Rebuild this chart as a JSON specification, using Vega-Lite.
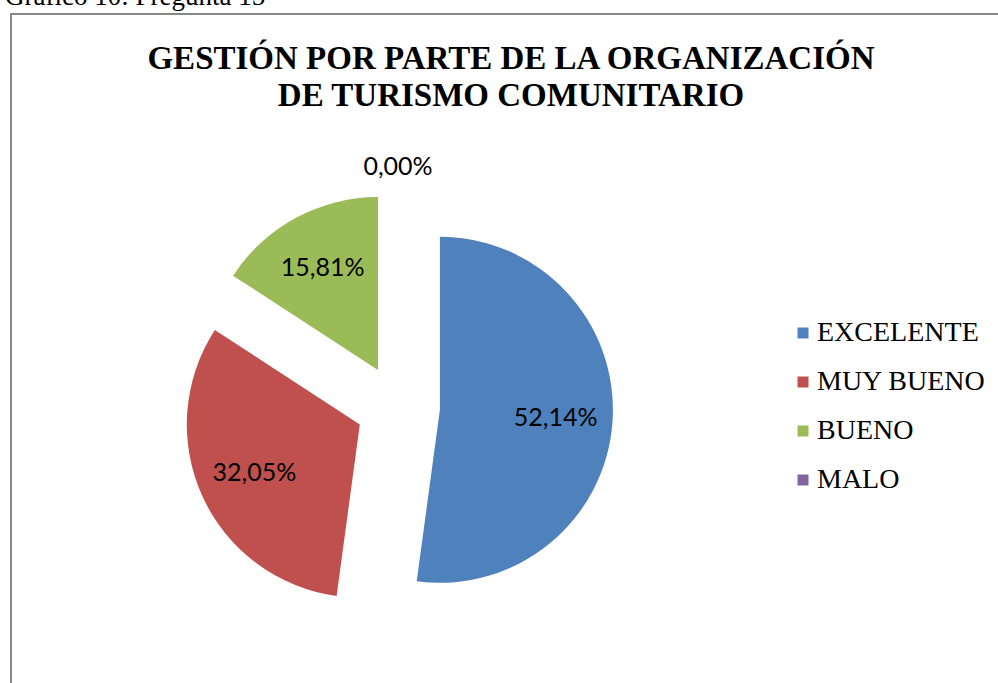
{
  "$schema": "https://vega.github.io/schema/vega-lite/v6.json",
  "background": "white",
  "padding": {"left": 5, "top": -17, "right": 0, "bottom": 0},
  "title": {
    "text": "Gráfico 10: Pregunta 15",
    "anchor": "start",
    "frame": "bounds",
    "font": "Liberation Serif",
    "fontSize": 27,
    "fontWeight": "normal",
    "color": "black",
    "offset": 2,
    "dx": -5
  },
  "config": {
    "locale": {
      "number": {"decimal": ",", "thousands": ".", "grouping": [3], "currency": ["", " €"]}
    }
  },
  "vconcat": [
    {
      "width": 988,
      "height": 671,
      "title": {
        "text": ["GESTIÓN POR PARTE DE LA ORGANIZACIÓN", "DE TURISMO COMUNITARIO"],
        "anchor": "middle",
        "frame": "group",
        "font": "Liberation Serif",
        "fontSize": 33,
        "fontWeight": "bold",
        "lineHeight": 37,
        "color": "black",
        "offset": -99,
        "dx": 6
      },
      "view": {"stroke": "#888888", "strokeWidth": 2, "strokeDash": [988, 1659, 671], "fill": "white"},
      "data": {
        "values": [
          {"categoria": "EXCELENTE", "proporcion": 0.5214, "orden": 1},
          {"categoria": "MUY BUENO", "proporcion": 0.3205, "orden": 2},
          {"categoria": "BUENO", "proporcion": 0.1581, "orden": 3},
          {"categoria": "MALO", "proporcion": 0, "orden": 4}
        ]
      },
      "encoding": {
        "theta": {"field": "proporcion", "type": "quantitative", "stack": true},
        "order": {"field": "orden", "type": "quantitative"},
        "color": {
          "field": "categoria",
          "type": "nominal",
          "scale": {
            "domain": ["EXCELENTE", "MUY BUENO", "BUENO", "MALO"],
            "range": ["#4F81BD", "#C0504D", "#9BBB59", "#8064A2"]
          },
          "legend": {
            "orient": "none",
            "legendX": 778,
            "legendY": 305,
            "direction": "vertical",
            "title": null,
            "padding": 0,
            "symbolType": "square",
            "symbolSize": 121,
            "symbolStrokeWidth": 0,
            "labelFont": "Liberation Serif",
            "labelFontSize": 28,
            "labelColor": "black",
            "labelOffset": 0,
            "rowPadding": 21,
            "labelLimit": 300
          }
        }
      },
      "layer": [
        {
          "mark": {
            "type": "arc",
            "outerRadius": 173,
            "x": 387,
            "y": 393,
            "stroke": null,
            "xOffset": {"expr": "42*sin(PI*(datum.proporcion_start+datum.proporcion_end))"},
            "yOffset": {"expr": "-42*cos(PI*(datum.proporcion_start+datum.proporcion_end))"}
          }
        },
        {
          "mark": {
            "type": "text",
            "radius": {"expr": "datum.proporcion == 0 ? 240 : 158"},
            "x": 387,
            "y": 393,
            "font": "Lato",
            "fontSize": 25
          },
          "encoding": {
            "text": {"field": "proporcion", "type": "quantitative", "format": ".2%"},
            "color": {"value": "black"}
          }
        }
      ]
    }
  ]
}
